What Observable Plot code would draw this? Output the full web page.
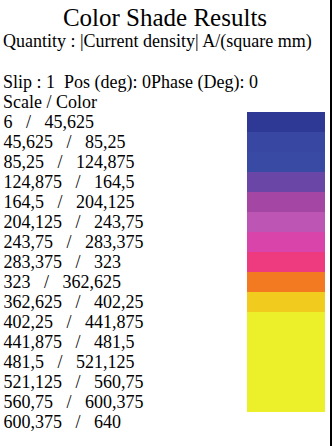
<!DOCTYPE html>
<html>
<head>
<meta charset="utf-8">
<script src="https://cdn.jsdelivr.net/npm/d3@7"></script>
<script src="https://cdn.jsdelivr.net/npm/@observablehq/plot@0.6"></script>
<style>
  html, body { margin: 0; padding: 0; background: #fff; }
  #wrap { position: relative; width: 332px; height: 446px; overflow: hidden;
          font-family: "Liberation Serif", "Times New Roman", serif; color: #000; }
  #wrap .line { position: absolute; left: 3px; white-space: pre; font-size: 18px; line-height: 18px; }
  #title { position: absolute; left: 0; width: 330px; text-align: center;
           font-size: 25px; line-height: 25px; top: 5px; }
  #border { position: absolute; left: 330px; top: 0; width: 2px; height: 446px; background: #000; }
  #chart { position: absolute; left: 0; top: 112px; }
</style>
</head>
<body>
<div id="wrap">
  <div id="title"></div>
  <div class="line" id="quantity" style="top:32px"></div>
  <div class="line" id="slip" style="top:72.5px"></div>
  <div class="line" id="scaleHead" style="top:92.5px"></div>
  <div id="chart"></div>
  <div id="border"></div>
</div>
<script>
// ---- data ----
const titleText = "Color Shade Results";
const quantityText = "Quantity : |Current density| A/(square mm)";
const slipText = "Slip : 1\u00a0\u00a0Pos (deg): 0Phase (Deg): 0";
const scaleHeadText = "Scale / Color";

// class bounds (17 values -> 16 classes)
const bounds = [6, 45.625, 85.25, 124.875, 164.5, 204.125, 243.75, 283.375, 323,
                362.625, 402.25, 441.875, 481.5, 521.125, 560.75, 600.375, 640];

// swatch colours (the last class has no swatch)
const colors = ["#2e3996", "#3747a2", "#394aa4", "#6a47a6", "#a346a4", "#bc55b3",
                "#d944ab", "#ee3a7e", "#f47a22", "#f2cb1f", "#ecf02a", "#ecf02a",
                "#ecf02a", "#ecf02a", "#ecf02a"];

// ---- build ----
document.getElementById("title").textContent = titleText;
document.getElementById("quantity").textContent = quantityText;
document.getElementById("slip").textContent = slipText;
document.getElementById("scaleHead").textContent = scaleHeadText;

const locale = d3.formatLocale({decimal: ",", thousands: ".", grouping: [3], currency: ["", ""]});
const fmt = locale.format("~f");
const sep = "\u00a0\u00a0\u00a0/\u00a0\u00a0\u00a0";

const rows = d3.range(bounds.length - 1).map(i => ({
  label: fmt(bounds[i]) + sep + fmt(bounds[i + 1]),
  color: colors[i] ?? null
}));

const chart = Plot.plot({
  width: 332,
  height: 334,
  marginTop: 0,
  marginBottom: 14,
  marginLeft: 0,
  marginRight: 0,
  style: {fontFamily: "'Liberation Serif', 'Times New Roman', serif", fontSize: "18px", background: "transparent", color: "#000"},
  x: {type: "band", domain: ["swatch"], range: [247, 325], padding: 0, axis: null},
  y: {type: "band", domain: rows.map(d => d.label), padding: 0, axis: null},
  color: {type: "identity"},
  marks: [
    Plot.cell(rows.filter(d => d.color), {x: () => "swatch", y: "label", fill: "color", inset: 0}),
    Plot.text(rows, {y: "label", text: "label", frameAnchor: "left", textAnchor: "start", dx: 3, dy: -0.5,
                     fontSize: 18, fontFamily: "Liberation Serif", fill: "#000"})
  ]
});
document.getElementById("chart").appendChild(chart);
</script>
</body>
</html>
